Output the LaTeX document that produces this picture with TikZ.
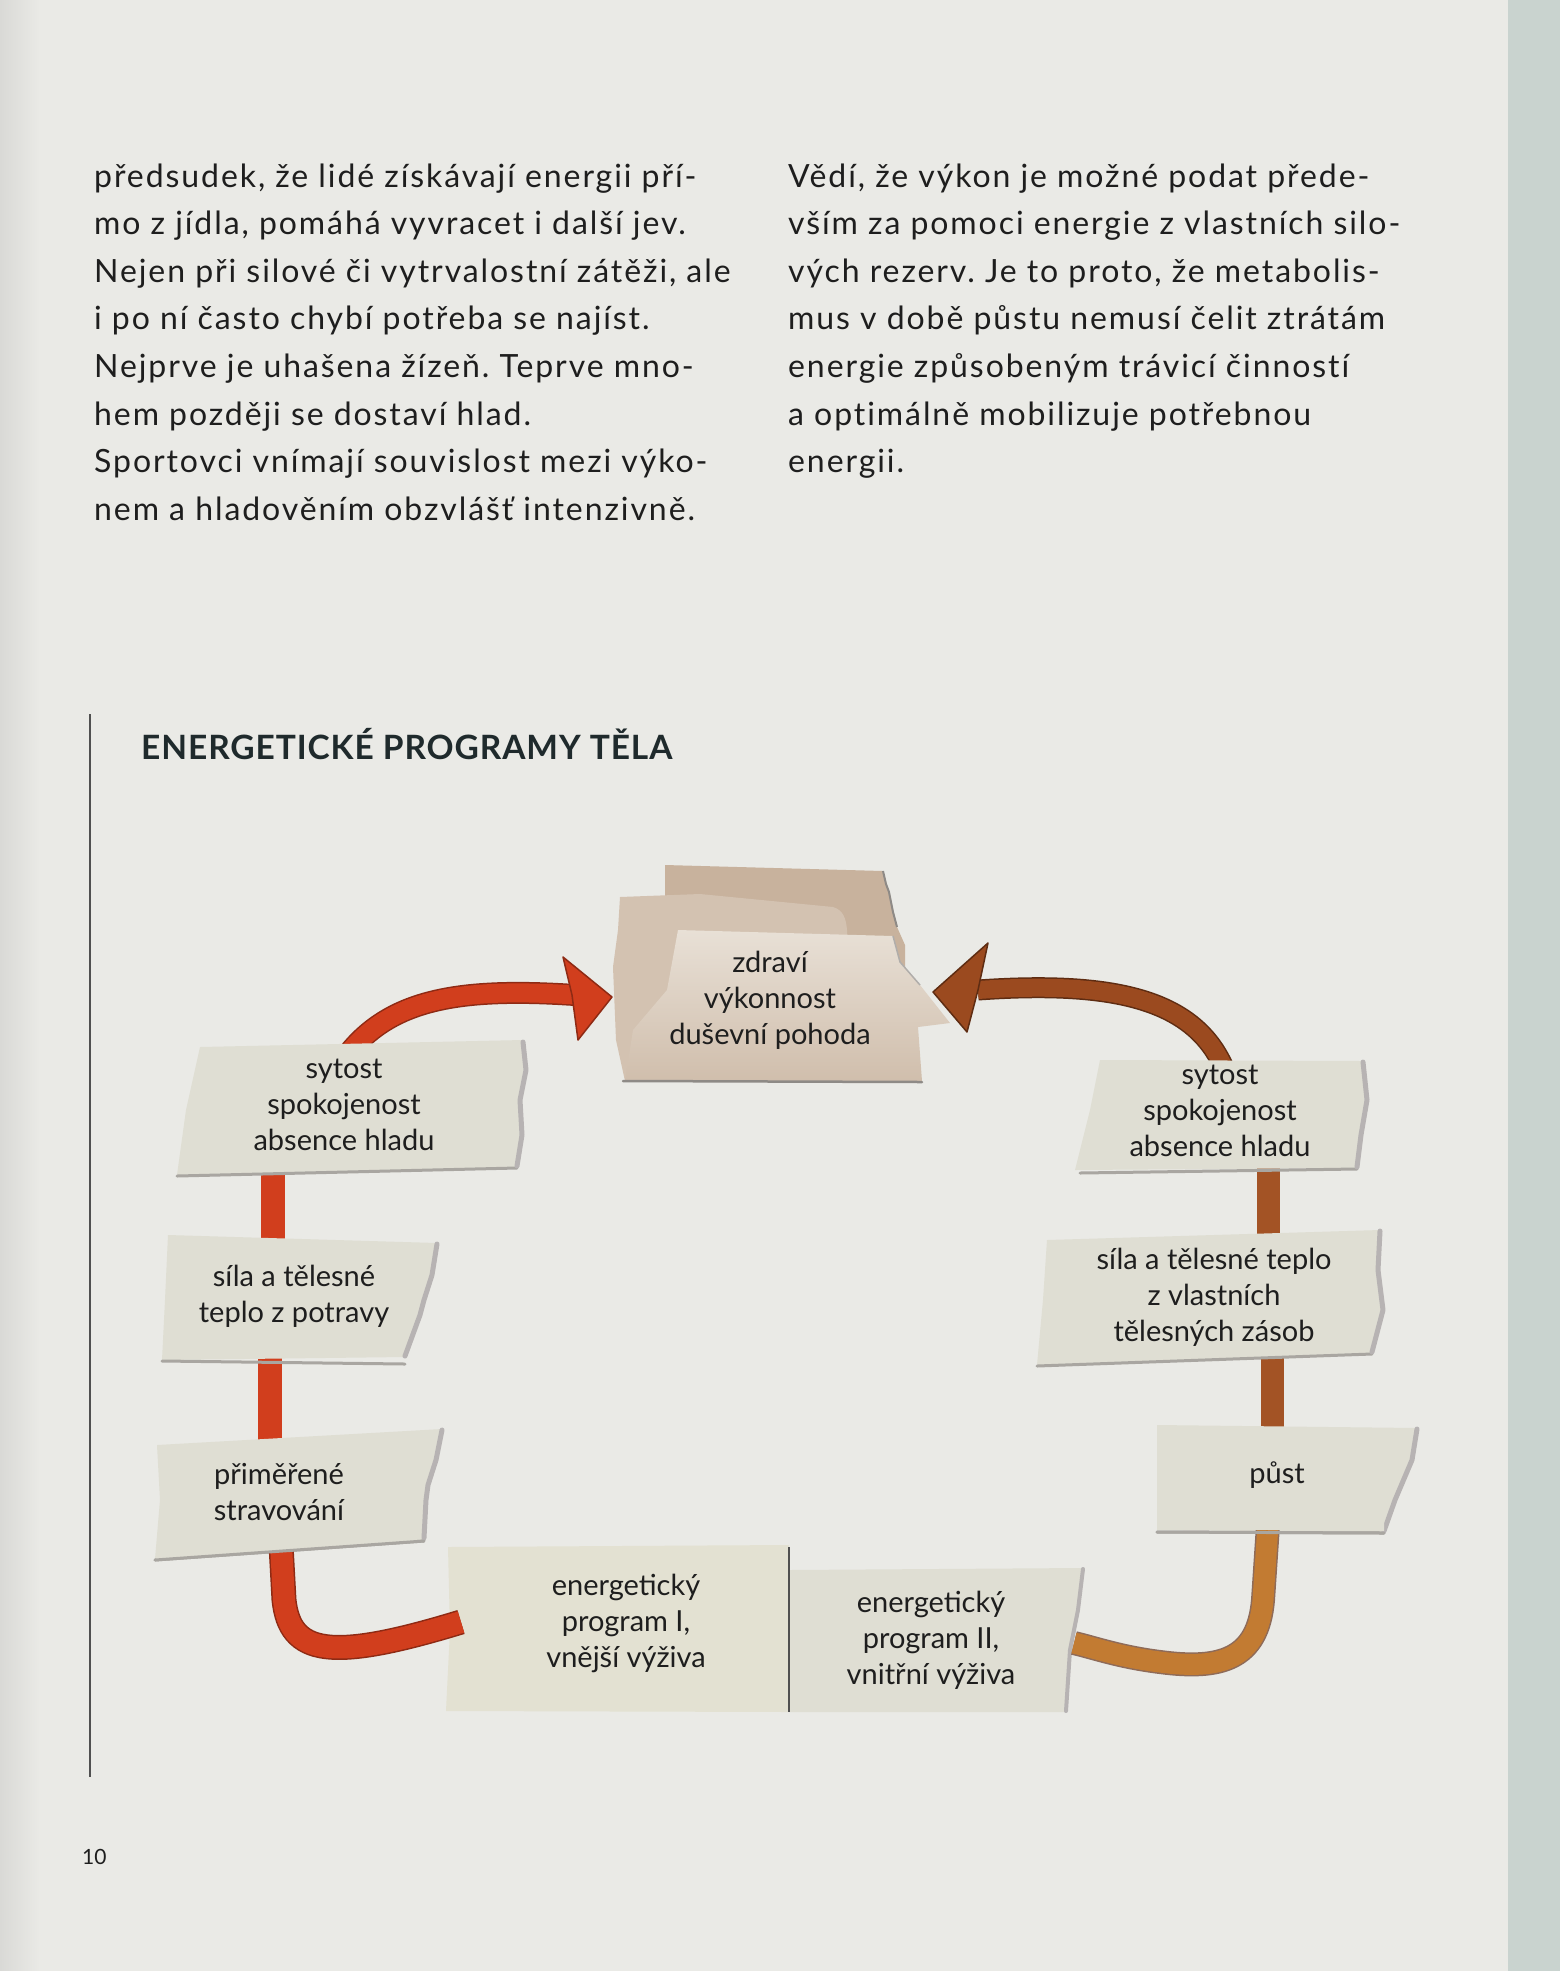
\documentclass[tikz,border=0pt]{standalone}
\usepackage{fontspec}
\setmainfont{Lato}
\newfontfamily\bodyfont[LetterSpace=6,Ligatures=CommonOff]{Lato}
\newfontfamily\titlefont[LetterSpace=2.7]{Lato Bold}
\definecolor{pagebg}{HTML}{EAEAE6}
\definecolor{edgec}{HTML}{D9D9D6}
\definecolor{stripc}{HTML}{C9D3CF}
\definecolor{ink}{HTML}{1E1E1E}
\definecolor{titleink}{HTML}{1F2A2C}
\definecolor{rulec}{HTML}{505050}
\definecolor{boxc}{HTML}{DFDED3}
\definecolor{boxlight}{HTML}{E3E1D2}
\definecolor{tearc}{HTML}{B7B3B3}
\definecolor{shadc}{HTML}{A9A6A1}
\definecolor{redc}{HTML}{D13E1D}
\definecolor{redd}{HTML}{8E2A14}
\definecolor{brownc}{HTML}{9B4A1F}
\definecolor{brownd}{HTML}{5E2C12}
\definecolor{brownstub}{HTML}{A35325}
\definecolor{orangec}{HTML}{C27B32}
\definecolor{tanback}{HTML}{C8B29D}
\definecolor{tanmid}{HTML}{D3C2B1}
\definecolor{tanlight}{HTML}{E8E0D6}
\definecolor{tanbot}{HTML}{D0BEAC}
\definecolor{tanedge}{HTML}{8E8A86}
\begin{document}
\begin{tikzpicture}[x=1pt,y=-1pt,
  body/.style={font=\bodyfont\fontsize{32}{36}\selectfont\frenchspacing, text=ink, anchor=base west, inner sep=0},
  boxtxt/.style={font=\fontsize{29}{36}\selectfont, text=ink, align=center, inner sep=0},
  paper/.style={fill=boxc},
  tear/.style={draw=tearc, line width=5, line join=round, line cap=round},
  shadowline/.style={draw=shadc, line width=3, line cap=round},
  redstub/.style={draw=redc, line width=24},
  brstub/.style={draw=brownstub, line width=23},
]
\useasboundingbox (0,0) rectangle (1560,1971);
\fill[pagebg] (0,0) rectangle (1560,1971);
\shade[left color=edgec, right color=pagebg] (0,0) rectangle (40,1971);
\fill[stripc] (1508,0) rectangle (1560,1971);

% ---------------- body text ----------------
\foreach \t [count=\i] in {{předsudek, že lidé získávají energii pří-},
  {mo z jídla, pomáhá vyvracet i další jev.},
  {Nejen při silové či vytrvalostní zátěži, ale},
  {i po ní často chybí potřeba se najíst.},
  {Nejprve je uhašena žízeň. Teprve mno-},
  {hem později se dostaví hlad.},
  {Sportovci vnímají souvislost mezi výko-},
  {nem a hladověním obzvlášť intenzivně.}}
  \node[body] (L\i) at (94,{187+47.6*(\i-1)}) {\t};
\foreach \t [count=\i] in {{Vědí, že výkon je možné podat přede-},
  {vším za pomoci energie z vlastních silo-},
  {vých rezerv. Je to proto, že metabolis-},
  {mus v době půstu nemusí čelit ztrátám},
  {energie způsobeným trávicí činností},
  {a optimálně mobilizuje potřebnou},
  {energii.}}
  \node[body] (R\i) at (788,{187+47.6*(\i-1)}) {\t};

% ---------------- frame, title, page number ----------------
\draw[rulec, line width=1.6] (90,714) -- (90,1777);
\node[font=\titlefont\fontsize{33.5}{40}\selectfont, text=titleink, anchor=base west, inner sep=0]
  (title) at (141,759) {ENERGETICKÉ PROGRAMY TĚLA};
\node[font=\fontsize{21}{26}\selectfont, text=ink, anchor=base west, inner sep=0]
  (pageno) at (82,1864) {10};

% ---------------- connector end points ----------------
\coordinate (rA0) at (342,1062);
\coordinate (rA1) at (575,995);
\coordinate (rS1a) at (273,1160);
\coordinate (rS1b) at (273,1245);
\coordinate (rS2a) at (270,1350);
\coordinate (rS2b) at (270,1440);
\coordinate (rJa) at (281,1545);
\coordinate (rJb) at (461,1622);
\coordinate (bA0) at (1224,1068);
\coordinate (bA1) at (978,990);
\coordinate (bS1a) at (1268,1160);
\coordinate (bS1b) at (1268,1240);
\coordinate (bS2a) at (1272,1355);
\coordinate (bS2b) at (1272,1435);
\coordinate (bJa) at (1268,1525);
\coordinate (bJb) at (1074,1643);

% ---------------- stubs behind the papers ----------------
\draw[redstub] (rS1a) -- (rS1b);
\draw[redstub] (rS2a) -- (rS2b);
\draw[brstub] (bS1a) -- (bS1b);
\draw[brstub] (bS2a) -- (bS2b);
% arrow shafts (behind papers)
\draw[redd, line width=22] (rA0) .. controls (385,1000) and (455,987) .. (rA1);
\draw[redc, line width=19] (rA0) .. controls (385,1000) and (455,987) .. (rA1);
\draw[brownd, line width=21] (bA0) .. controls (1195,1002) and (1120,980) .. (bA1);
\draw[brownc, line width=18] (bA0) .. controls (1195,1002) and (1120,980) .. (bA1);

% ---------------- top tan paper ----------------
\fill[tanback] (665,865) -- (883,871) -- (889,892) -- (897,927) -- (905,945) -- (905,1000) -- (700,1000) -- (665,930) -- cycle;
\draw[tanedge, line width=2, line join=round] (883,871) -- (886,884) -- (889,892) -- (893,912) -- (897,927);
\fill[tanmid] (620,897) -- (700,894) -- (833,907) .. controls (843,910) and (846,918) .. (847,930) -- (850,1080) -- (625,1081) -- (616,1040) -- (613,967) -- (618,930) -- cycle;
\shade[top color=tanlight, bottom color=tanbot] (678,930) -- (893,936) -- (900,962) -- (920,985) -- (950,1023) -- (918,1027) -- (922,1081) -- (625,1081) -- (633,1030) -- (667,990) -- cycle;
\draw[tanedge, line width=2.5, line cap=round] (623,1081) -- (922,1082);
\draw[tanedge!70, line width=1.5, line join=round] (893,936) -- (900,962) -- (920,985);
\node[boxtxt] (top) at (770,1000.8) {\strut zdraví\\\strut výkonnost\\\strut duševní pohoda};

% ---------------- left papers ----------------
\fill[paper] (200,1047) -- (523,1040) -- (526,1070) -- (520,1100) -- (522,1135) -- (517,1167) -- (177,1175) -- (186,1110) -- cycle;
\draw[shadowline] (177,1176) -- (517,1168);
\draw[tear] (523,1042) -- (526,1070) -- (520,1100) -- (522,1135) -- (517,1166);
\node[boxtxt] (sytL) at (344,1106.8) {\strut sytost\\\strut spokojenost\\\strut absence hladu};

\fill[paper] (168,1235) -- (437,1243) -- (432,1275) -- (420,1315) -- (405,1357) -- (162,1360) -- (165,1300) -- cycle;
\draw[shadowline] (162,1361) -- (405,1364);
\draw[tear] (437,1244) -- (432,1275) -- (424,1300) -- (420,1315) -- (405,1356);
\node[boxtxt] (silaL) at (294,1297.3) {\strut síla a tělesné\\\strut teplo z potravy};

\fill[paper] (157,1445) -- (442,1429) -- (436,1460) -- (426,1500) -- (424,1540) -- (155,1559) -- (160,1500) -- cycle;
\draw[shadowline] (155,1560) -- (424,1541);
\draw[tear] (442,1430) -- (436,1460) -- (428,1485) -- (426,1500) -- (424,1538);
\node[boxtxt] (primL) at (279,1495.3) {\strut přiměřené\\\strut stravování};

% ---------------- bottom papers ----------------
\fill[boxlight] (448,1547) -- (789,1545) -- (789,1712) -- (446,1711) -- (450,1630) -- cycle;
\fill[paper] (789,1570) -- (1083,1568) -- (1078,1610) -- (1070,1650) -- (1066,1712) -- (789,1712) -- cycle;
\draw[tear, line width=4] (1083,1569) -- (1078,1610) -- (1072,1640) -- (1070,1650) -- (1066,1711);
\draw[rulec, line width=2] (789,1547) -- (789,1712);
\node[boxtxt] (prog1) at (626,1624.3) {\strut energetický\\\strut program I,\\\strut vnější výživa};
\node[boxtxt] (prog2) at (931,1640.8) {\strut energetický\\\strut program II,\\\strut vnitřní výživa};

% ---------------- right papers ----------------
\fill[paper] (1100,1060) -- (1363,1061) -- (1367,1100) -- (1361,1135) -- (1357,1168) -- (1075,1170) -- (1090,1110) -- cycle;
\draw[shadowline] (1080,1173) -- (1357,1169);
\draw[tear] (1363,1062) -- (1367,1100) -- (1361,1135) -- (1357,1167);
\node[boxtxt] (sytR) at (1220,1112.8) {\strut sytost\\\strut spokojenost\\\strut absence hladu};

\fill[paper] (1047,1240) -- (1380,1230) -- (1378,1270) -- (1383,1310) -- (1372,1353) -- (1037,1365) -- (1043,1300) -- cycle;
\draw[shadowline] (1037,1366) -- (1372,1354);
\draw[tear] (1380,1231) -- (1378,1270) -- (1383,1310) -- (1372,1352);
\node[boxtxt] (silaR) at (1214,1297.8) {\strut síla a tělesné teplo\\\strut z vlastních\\\strut tělesných zásob};

\fill[paper] (1157,1425) -- (1417,1428) -- (1412,1460) -- (1395,1500) -- (1384,1532) -- (1157,1530) -- cycle;
\draw[shadowline] (1157,1532) -- (1384,1533);
\draw[tear] (1417,1429) -- (1412,1460) -- (1395,1500) -- (1384,1531);
\node[boxtxt] (pust) at (1277,1475.8) {\strut půst};

% ---------------- J-shaped connectors on top ----------------
\draw[redd, line width=25] (rJa) -- (284,1600) .. controls (290,1655) and (330,1662) .. (rJb);
\draw[redc, line width=22] (rJa) -- (284,1600) .. controls (290,1655) and (330,1662) .. (rJb);
\draw[brownd!70, line width=24] (bJa) -- (1263,1600) .. controls (1258,1660) and (1220,1670) .. (1160,1662) .. controls (1120,1657) and (1095,1648) .. (bJb);
\draw[orangec, line width=21] (bJa) -- (1263,1600) .. controls (1258,1660) and (1220,1670) .. (1160,1662) .. controls (1120,1657) and (1095,1648) .. (bJb);
% re-cover J starts by the papers' bottom edge
\fill[paper] (200,1520) -- (424,1540) -- (155,1559) -- cycle;
\fill[paper] (1157,1505) -- (1384,1505) -- (1384,1531) -- (1157,1529) -- cycle;
\draw[shadowline] (155,1560) -- (424,1541);
\draw[shadowline] (1157,1532) -- (1384,1533);

% ---------------- arrowheads ----------------
\filldraw[fill=redc, draw=redd, line width=1.5, line join=round] (612,997) -- (563,957) -- (572,995) -- (578,1040) -- cycle;
\filldraw[fill=brownc, draw=brownd, line width=1.5, line join=round] (933,992) -- (988,943) -- (978,990) -- (967,1032) -- cycle;
\end{tikzpicture}
\end{document}
